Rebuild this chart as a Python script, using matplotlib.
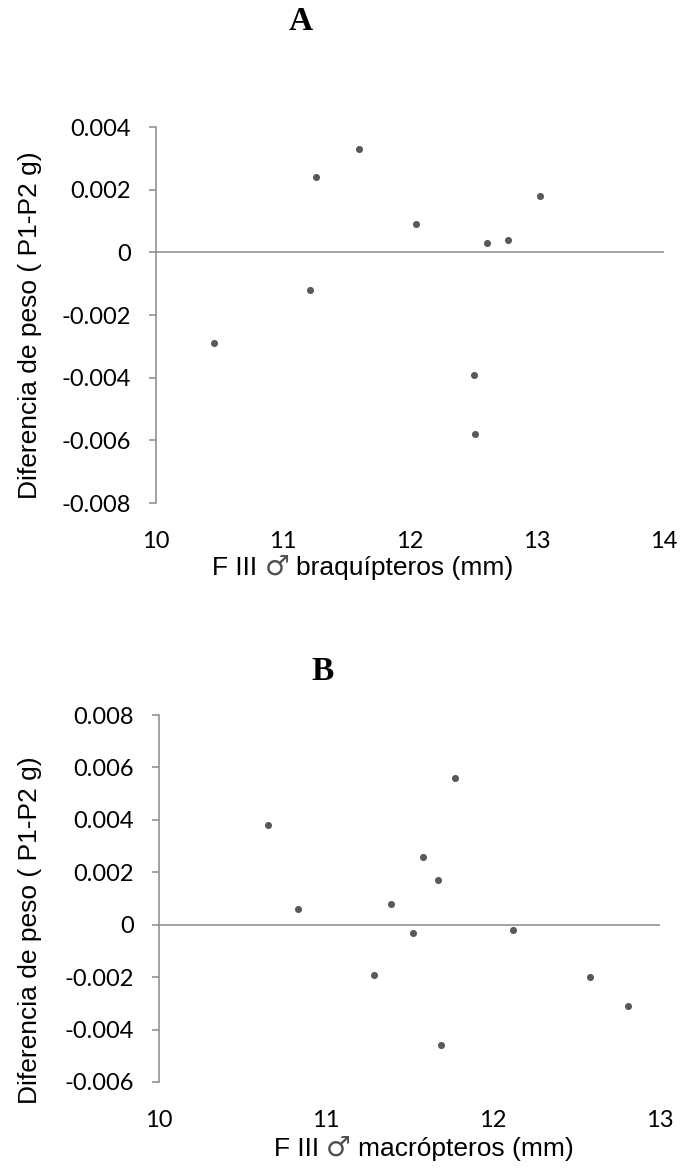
import matplotlib
matplotlib.use('Agg')
import matplotlib.pyplot as plt
from matplotlib.offsetbox import TextArea, HPacker, AnchoredOffsetbox

# Panel A - braquipteros
a_len = [10.46, 11.21, 11.26, 11.60, 12.05, 12.50, 12.51, 12.61, 12.77, 13.02]
a_diff = [-0.0029, -0.0012, 0.0024, 0.0033, 0.0009, -0.0039, -0.0058, 0.0003, 0.0004, 0.0018]
a_xticks = [10, 11, 12, 13, 14]
a_yticks = [-0.008, -0.006, -0.004, -0.002, 0, 0.002, 0.004]

# Panel B - macropteros
b_len = [10.65, 10.83, 11.29, 11.39, 11.52, 11.58, 11.67, 11.69, 11.77, 12.12, 12.58, 12.81]
b_diff = [0.0038, 0.0006, -0.0019, 0.0008, -0.0003, 0.0026, 0.0017, -0.0046, 0.0056, -0.0002, -0.0020, -0.0031]
b_xticks = [10, 11, 12, 13]
b_yticks = [-0.006, -0.004, -0.002, 0, 0.002, 0.004, 0.006, 0.008]

ylabel = 'Diferencia de peso ( P1-P2 g)'
a_xlabel = ['F III', '\u2642', 'braquípteros (mm)']
b_xlabel = ['F III', '\u2642', 'macrópteros (mm)']

W, H = 681, 1168
fig = plt.figure(figsize=(W / 100, H / 100), dpi=100)

grey = '#898989'
dot = '#595959'
label_font = ['Liberation Sans', 'DejaVu Sans']
tick_font = 'Lato'


def xlabel_box(parts, cx, cy):
    # x label in pieces so the male sign can get its own glyph
    kids = [TextArea(parts[0], textprops=dict(fontsize=19, family=label_font)),
            TextArea(parts[1], textprops=dict(fontsize=20, family=['DejaVu Sans', 'Noto Sans CJK JP'],
                                              color='#505050')),
            TextArea(parts[2], textprops=dict(fontsize=19, family=label_font))]
    box = HPacker(children=kids, align='baseline', pad=0, sep=5)
    anch = AnchoredOffsetbox(loc='center', child=box, pad=0, borderpad=0, frameon=False,
                             bbox_to_anchor=(cx / W, 1 - cy / H),
                             bbox_transform=fig.transFigure)
    fig.add_artist(anch)


def make_panel(box, x, y, xticks, yticks, xlabel, xlab_pos, ylab_pos, xpad):
    left, right, top, bottom = box
    ax = fig.add_axes([left / W, 1 - bottom / H, (right - left) / W, (bottom - top) / H])
    ax.scatter(x, y, s=26, color=dot, zorder=3, linewidths=0)
    ax.axhline(0, color=grey, lw=1.1, zorder=1)
    ax.set_xlim(xticks[0], xticks[-1])
    ax.set_ylim(yticks[0], yticks[-1])
    ax.set_xticks(xticks)
    ax.set_yticks(yticks)
    ax.set_xticklabels([str(t) for t in xticks])
    ax.set_yticklabels(['0' if t == 0 else f'{t:.3f}' for t in yticks])
    for s in ['top', 'right', 'bottom']:
        ax.spines[s].set_visible(False)
    ax.spines['left'].set_color(grey)
    ax.spines['left'].set_linewidth(1.1)
    ax.tick_params(axis='y', length=5, width=1.1, color=grey, pad=13)
    ax.tick_params(axis='x', length=0, pad=xpad)
    for lab in ax.get_xticklabels() + ax.get_yticklabels():
        lab.set_fontfamily(tick_font)
        lab.set_fontsize(17)
        lab.set_color('black')
    ax.set_ylabel(ylabel, fontsize=19, family=label_font)
    ax.yaxis.label.set_va('center')
    ax.yaxis.set_label_coords((ylab_pos[0] - left) / (right - left), (bottom - ylab_pos[1]) / (bottom - top))
    xlabel_box(xlabel, *xlab_pos)
    return ax


make_panel((156, 664, 127, 503), a_len, a_diff, a_xticks, a_yticks, a_xlabel, (363, 567), (30, 325), 20)
make_panel((159, 660, 715, 1082), b_len, b_diff, b_xticks, b_yticks, b_xlabel, (424, 1148), (30, 930), 20)

fig.text(301 / W, 1 - 22 / H, 'A', ha='center', va='center', fontsize=24,
         fontweight='bold', family='Liberation Serif')
fig.text(323 / W, 1 - 671 / H, 'B', ha='center', va='center', fontsize=24,
         fontweight='bold', family='Liberation Serif')

fig.savefig('out.png', dpi=100)
